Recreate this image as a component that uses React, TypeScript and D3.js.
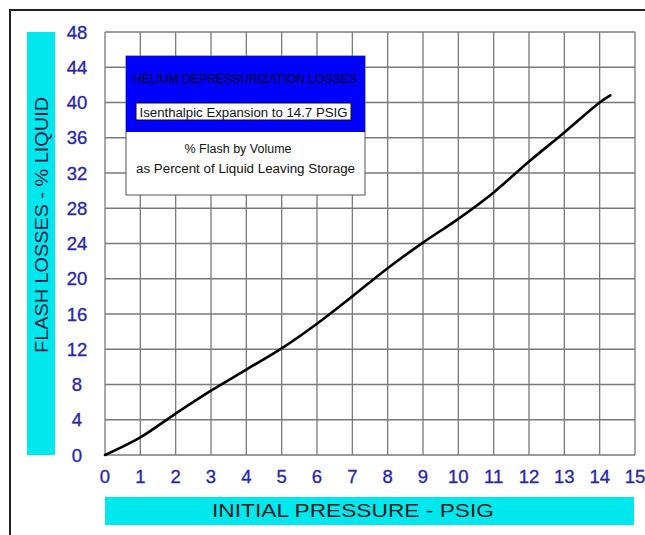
import React from "react";
import * as d3 from "d3";

const pressure = [0, 1, 2, 3, 4, 5, 6, 7, 8, 9, 10, 11, 12, 13, 14, 14.3];
const flashLoss = [0, 2.0, 4.7, 7.3, 9.7, 12.1, 14.9, 18.0, 21.2, 24.1, 26.8, 29.8, 33.3, 36.6, 40.0, 40.8];
const xTicks = d3.range(0, 16, 1);
const yTicks = d3.range(0, 49, 4);
const xTitle = "INITIAL PRESSURE - PSIG";
const yTitle = "FLASH LOSSES - % LIQUID";
const boxTitle = "HELIUM DEPRESSURIZATION LOSSES";
const boxSubtitle = "Isenthalpic Expansion to 14.7 PSIG";
const boxLines = ["% Flash by Volume", "as Percent of Liquid Leaving Storage"];

export default function App() {
  const W = 645, H = 535;
  const x = d3.scaleLinear().domain([0, 15]).range([105, 635]);
  const y = d3.scaleLinear().domain([0, 48]).range([455, 32]);
  const line = d3.line<number>()
    .x((_, i) => x(pressure[i]))
    .y((d) => y(d))
    .curve(d3.curveCatmullRom.alpha(0.5));
  const font = "Arial, 'Liberation Sans', sans-serif";
  return (
    <svg width={W} height={H} style={{ position: "absolute", left: 0, top: 0, background: "#fff" }} fontFamily={font}>
      <rect x={0} y={0} width={W} height={H} fill="#fff" />
      {/* outer frame */}
      <path d={`M10,${H + 5} L10,10 L${W + 5},10`} fill="none" stroke="#222" strokeWidth={2} />
      {/* grid */}
      {xTicks.map((t) => (
        <line key={"gx" + t} x1={x(t)} x2={x(t)} y1={y(0)} y2={y(48)} stroke="#7a7a7a" strokeWidth={1.3} />
      ))}
      {yTicks.map((t) => (
        <line key={"gy" + t} x1={x(0)} x2={x(15)} y1={y(t)} y2={y(t)} stroke="#7a7a7a" strokeWidth={1.3} />
      ))}
      {/* curve */}
      <path d={line(flashLoss) || ""} fill="none" stroke="#000" strokeWidth={2.6} strokeLinecap="round" />
      {/* tick labels */}
      {yTicks.map((t) => (
        <text key={"ly" + t} x={77} y={y(t)} dy="0.36em" textAnchor="middle" fontSize={18.5} fill="#2424b0" stroke="#2424b0" strokeWidth={0.3}>{t}</text>
      ))}
      {xTicks.map((t) => (
        <text key={"lx" + t} x={x(t)} y={476} dy="0.36em" textAnchor="middle" fontSize={18.5} fill="#2424b0" stroke="#2424b0" strokeWidth={0.3}>{t}</text>
      ))}
      {/* y title */}
      <rect x={27} y={32} width={28} height={423} fill="#00e8ee" />
      <text transform={`translate(48,225) rotate(-90)`} textAnchor="middle" fontSize={18} fill="#1a1a40" textLength={256} lengthAdjust="spacingAndGlyphs">{yTitle}</text>
      {/* x title */}
      <rect x={105} y={497} width={529} height={28} fill="#00e8ee" />
      <text x={353} y={511} dy="0.36em" textAnchor="middle" fontSize={18} fill="#1a1a1a" textLength={282} lengthAdjust="spacingAndGlyphs">{xTitle}</text>
      {/* legend box */}
      <rect x={126} y={56} width={239} height={139} fill="#fff" stroke="#555" strokeWidth={1} />
      <rect x={126} y={56} width={239} height={76} fill="#0000ff" />
      <text x={245} y={79} dy="0.36em" textAnchor="middle" fontSize={12} fill="#0a0a40" stroke="#0a0a40" strokeWidth={0.3} textLength={224} lengthAdjust="spacingAndGlyphs">{boxTitle}</text>
      <rect x={136} y={103} width={215} height={17} fill="#fff" stroke="#111" strokeWidth={1} />
      <text x={243.5} y={112} dy="0.36em" textAnchor="middle" fontSize={12.5} fill="#111" textLength={208} lengthAdjust="spacingAndGlyphs">{boxSubtitle}</text>
      <text x={238} y={148} dy="0.36em" textAnchor="middle" fontSize={12.5} fill="#111">{boxLines[0]}</text>
      <text x={245.5} y={168} dy="0.36em" textAnchor="middle" fontSize={12.5} fill="#111" textLength={219} lengthAdjust="spacingAndGlyphs">{boxLines[1]}</text>
    </svg>
  );
}
